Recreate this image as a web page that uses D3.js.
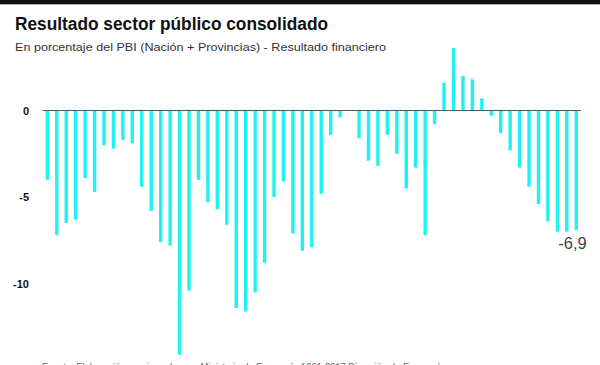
<!DOCTYPE html>
<html>
<head>
<meta charset="utf-8">
<script src="https://cdn.jsdelivr.net/npm/d3@7"></script>
<style>
  html, body { margin: 0; padding: 0; background: #fff; }
  svg { display: block; }
</style>
</head>
<body>
<svg id="chart" width="600" height="365"></svg>
<script>
// ---- data ----
const years = d3.range(1961, 2018).map(String);
const values = [
  -4.0, -7.2, -6.5, -6.3, -3.9, -4.7, -2.0, -2.2, -1.7, -1.9,
  -4.4, -5.8, -7.6, -7.8, -14.1, -10.4, -4.0, -5.3, -5.7, -6.6,
  -11.4, -11.6, -10.5, -8.8, -5.0, -4.1, -7.1, -8.1, -7.9, -4.8,
  -1.4, -0.4, 0.0, -1.6, -2.9, -3.2, -1.4, -2.5, -4.5, -3.3,
  -7.2, -0.8, 1.6, 3.6, 2.0, 1.8, 0.7, -0.3, -1.3, -2.3,
  -3.3, -4.4, -5.4, -6.4, -7.0, -7.0, -6.9
];
const yTicks = [0, -5, -10];
const tickLabels = ["0", "-5", "-10"];
const title = "Resultado sector público consolidado";
const subtitle = "En porcentaje del PBI (Nación + Provincias) - Resultado financiero";
const lastLabel = "-6,9";
const source = "Fuente: Elaboración propia en base a Ministerio de Economía 1961-2017 Dirección de Economía";

// ---- chart ----
const svg = d3.select("#chart");
const W = 600, H = 365;

// top black band
svg.append("rect").attr("x", 0).attr("y", 0).attr("width", W).attr("height", 4).attr("fill", "#111");
svg.append("line").attr("x1", 0).attr("x2", W).attr("y1", 4.5).attr("y2", 4.5)
  .attr("stroke", "#aaa").attr("stroke-width", 1);

const tt = svg.append("text")
  .attr("x", 15).attr("y", 30)
  .attr("font-family", "'Liberation Sans', Arial, sans-serif")
  .attr("font-weight", "bold").attr("font-size", 17.5)
  .attr("fill", "#111")
  .text(title);
tt.attr("textLength", 313).attr("lengthAdjust", "spacingAndGlyphs");

const st = svg.append("text")
  .attr("x", 15).attr("y", 51)
  .attr("font-family", "'Liberation Sans', Arial, sans-serif")
  .attr("font-size", 11.5)
  .attr("fill", "#333")
  .text(subtitle);
st.attr("textLength", 371).attr("lengthAdjust", "spacingAndGlyphs");

const x = d3.scaleBand()
  .domain(years)
  .range([42.6, 581])
  .paddingInner(0.64)
  .paddingOuter(0.32);

const y = d3.scaleLinear()
  .domain([-15, 5])
  .range([110.5 + 15 * 17.32, 110.5 - 5 * 17.32]);

// y tick labels
const yAxis = d3.axisLeft(y)
  .tickValues(yTicks)
  .tickSize(0)
  .tickPadding(0)
  .tickFormat((d, i) => tickLabels[i]);

const ga = svg.append("g")
  .attr("transform", "translate(29,0)")
  .call(yAxis);
ga.select(".domain").remove();
ga.selectAll("text")
  .attr("font-family", "'Liberation Sans', Arial, sans-serif")
  .attr("font-weight", "bold")
  .attr("font-size", 11)
  .attr("fill", "#111");

// bars
svg.append("g")
  .selectAll("rect")
  .data(values)
  .join("rect")
  .attr("x", (d, i) => x(years[i]))
  .attr("width", x.bandwidth())
  .attr("y", d => Math.min(y(d), y(0)))
  .attr("height", d => Math.abs(y(d) - y(0)))
  .attr("fill", "#1ef3f0");

// zero line
svg.append("line")
  .attr("x1", x.range()[0]).attr("x2", x.range()[1])
  .attr("y1", y(0)).attr("y2", y(0))
  .attr("stroke", "#555").attr("stroke-width", 1.2);

// last value label
const lastIdx = values.length - 1;
svg.append("text")
  .attr("x", x(years[lastIdx]) + x.bandwidth() / 2 + 10.5)
  .attr("y", y(values[lastIdx]) + 19)
  .attr("text-anchor", "end")
  .attr("font-family", "'Liberation Sans', Arial, sans-serif")
  .attr("font-size", 16.5)
  .attr("fill", "#444")
  .text(lastLabel);

// source (partly cut off at bottom, as in the reference)
svg.append("text")
  .attr("x", 42).attr("y", 371)
  .attr("font-family", "'Liberation Sans', Arial, sans-serif")
  .attr("font-size", 11)
  .attr("fill", "#666")
  .attr("textLength", 403)
  .attr("lengthAdjust", "spacingAndGlyphs")
  .text(source);
</script>
</body>
</html>
